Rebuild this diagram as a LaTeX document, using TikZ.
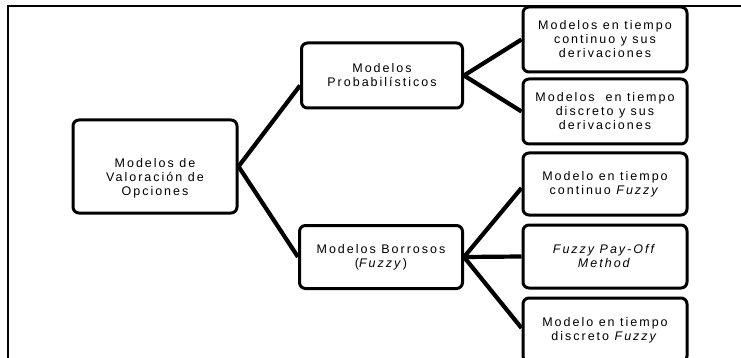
\documentclass[tikz,border=0pt]{standalone}
\usepackage{fontspec}
\setmainfont[LetterSpace=16]{Liberation Sans}
\begin{document}
\begin{tikzpicture}[x=1pt,y=-1pt,
  box/.style={draw, line width=3pt, rounded corners=6pt, align=center, inner sep=0pt,
    font=\fontsize{12.5}{14}\selectfont},
  conn/.style={line width=4.2pt},
  frameline/.style={line width=2.8pt}]
\useasboundingbox (0,0) rectangle (741,358);
\clip (0,0) rectangle (741,358);
\draw[frameline] (8,370) -- (8,6) -- (760,6);

\node[box, minimum width=164pt, minimum height=93pt] (root) at (155,166.5)
  {\rule{0pt}{32pt}Modelos de\\Valoración de\\Opciones};
\node[box, minimum width=161pt, minimum height=65pt] (prob) at (382,75.5)
  {Modelos\\Probabilísticos};
\node[box, minimum width=163pt, minimum height=63pt] (borr) at (381,257)
  {Modelos Borrosos\\(\textit{Fuzzy})};

\node[box, minimum width=164pt, minimum height=65pt] (b1) at (605,39.5)
  {Modelos en tiempo\\continuo y sus\\derivaciones};
\node[box, minimum width=164pt, minimum height=65pt] (b2) at (605,111.5)
  {Modelos \ en tiempo\\discreto y sus\\derivaciones};
\node[box, minimum width=164pt, minimum height=62pt] (b3) at (605,184)
  {Modelo en tiempo\\continuo \textit{Fuzzy}};
\node[box, minimum width=164pt, minimum height=63pt] (b4) at (605,256.5)
  {\textit{Fuzzy Pay-Off}\\\textit{Method}};
\node[box, minimum width=164pt, minimum height=64pt] (b5) at (605,330)
  {Modelo en tiempo\\discreto \textit{Fuzzy}};

\draw[conn] (root.east) -- ([yshift=-10pt]prob.west);
\draw[conn] (root.east) -- (borr.west);
\draw[conn] (prob.east) -- (b1.west);
\draw[conn] (prob.east) -- (b2.west);
\draw[conn] (borr.east) -- ([yshift=-4pt]b3.west);
\draw[conn] (borr.east) -- (b4.west);
\draw[conn] (borr.east) -- ([yshift=2pt]b5.west);
\end{tikzpicture}
\end{document}
